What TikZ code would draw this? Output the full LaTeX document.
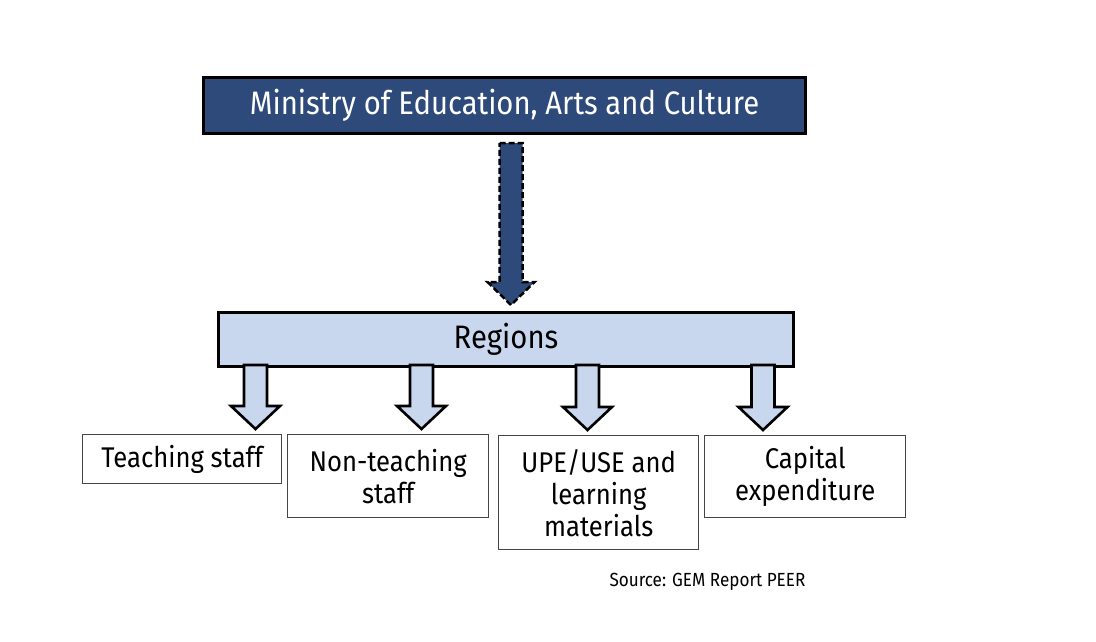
\documentclass[tikz,border=0pt]{standalone}
\usepackage{fontspec}
\setmainfont[FakeStretch=0.9]{Fira Sans}
\usetikzlibrary{calc}
\definecolor{darkblue}{HTML}{2E4A7B}
\definecolor{lightblue}{HTML}{C8D7EE}
\definecolor{boxgray}{HTML}{454545}
\tikzset{
  topbox/.style={draw=black, line width=3pt, fill=darkblue, text=white, inner sep=0pt,
    font=\fontsize{32.5}{36}\selectfont, anchor=north west},
  regbox/.style={draw=black, line width=3pt, fill=lightblue, text=black, inner sep=0pt,
    font=\fontsize{32.5}{36}\selectfont, anchor=north west},
  itembox/.style={draw=boxgray, line width=1.4pt, fill=white, text=black, inner sep=0pt,
    align=center, font=\fontsize{28.5}{32}\selectfont, anchor=north west},
  bigarrow/.style={draw=black, line width=2.5pt, dash pattern=on 6pt off 3pt, fill=darkblue, line join=miter},
  smallarrow/.style={draw=black, line width=2.6pt, fill=lightblue, line join=miter},
}
% #1 style, #2 start, #3 tip, #4 half shaft, #5 half head, #6 head length
\newcommand{\blockarr}[6]{%
  \draw[#1] let \p1=(#2), \p2=(#3) in
    (\x1-#4,\y1) -- (\x1+#4,\y1) -- (\x1+#4,\y2+#6) -- (\x1+#5,\y2+#6) --
    (\x2,\y2) -- (\x1-#5,\y2+#6) -- (\x1-#4,\y2+#6) -- cycle;}
\begin{document}
\begin{tikzpicture}[x=1pt,y=-1pt]
\useasboundingbox[fill=white] (0,0) rectangle (1096,642);
\node[topbox, minimum width=602pt, minimum height=56pt] (min) at (202,76) {Ministry of Education, Arts and Culture};
\node[regbox, minimum width=575pt, minimum height=54pt] (reg) at (217,311) {Regions};
\node[itembox, minimum width=199pt, minimum height=49pt] (t1) at (82,434) {Teaching staff};
\node[itembox, minimum width=201pt, minimum height=83pt] (t2) at (287,434) {Non-teaching\\staff};
\node[itembox, minimum width=200pt, minimum height=114pt] (t3) at (498,435) {UPE/USE and\\learning\\materials};
\node[itembox, minimum width=201pt, minimum height=82pt] (t4) at (704,435) {Capital\\expenditure};
\node[font=\fontsize{19}{22}\selectfont, anchor=west] (src) at (606,582) {Source: GEM Report PEER};
% big arrow
\coordinate (bs) at ($(min.south)+(6.5,8)$);
\coordinate (bt) at (bs |- reg.north);
\blockarr{bigarrow}{bs}{$(bt)+(0,-6)$}{11.5pt}{23.5pt}{23pt}
% small arrows
\foreach \i/\xx in {1/255.5,2/421.5,3/587.5,4/763} {
  \coordinate (s\i) at (\xx,365);
  \coordinate (e\i) at ($(\xx,0 |- t\i.north)+(0,-5)$);
  \blockarr{smallarrow}{s\i}{e\i}{11.5pt}{24.5pt}{23pt}
}
\end{tikzpicture}
\end{document}
